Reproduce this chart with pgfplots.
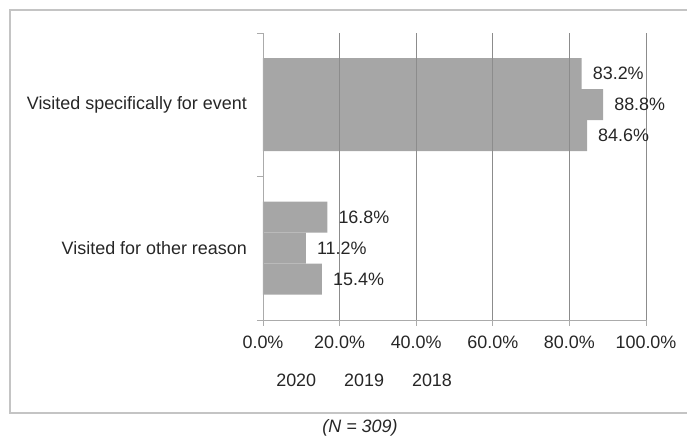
\documentclass[border=0pt]{standalone}
\usepackage{fontspec}
\setmainfont{Liberation Sans}
\usepackage{pgfplots}
\pgfplotsset{compat=1.18}
\definecolor{barg}{HTML}{A6A6A6}
\definecolor{gridg}{HTML}{8C8C8C}
\definecolor{axg}{HTML}{ABABAB}
\definecolor{txt}{HTML}{262626}
\definecolor{frameg}{HTML}{C4C4C4}
\newcommand{\fs}{\fontsize{18}{21}\selectfont}
\begin{document}
\fs
\begin{tikzpicture}[x=1bp,y=1bp]
\useasboundingbox (-263,-117) rectangle (424,320);
\draw[color=frameg, line width=1.2bp] (-253,-93) rectangle (426,310);
\begin{axis}[
  at={(0,0)}, anchor=south west,
  xbar, scale only axis, width=383bp, height=287bp,
  xmin=0, xmax=100, ymin=-0.5, ymax=1.5,
  /pgf/number format/assume math mode=true,
  axis x line*=bottom, axis y line*=left,
  axis line style={draw=axg, line width=0.9bp},
  xtick={0,20,...,100},
  xticklabel={\pgfmathprintnumber[fixed,fixed zerofill,precision=1]{\tick}\%},
  xticklabel style={yshift=-4bp},
  xmajorgrids, grid style={draw=gridg, line width=0.8bp},
  tick align=outside, major tick length=6bp,
  tick style={draw=axg, line width=0.9bp},
  ytick={-0.5,0.5,1.5}, yticklabels={,,},
  extra y ticks={0,1},
  extra y tick labels={Visited for other reason,Visited specifically for event},
  extra y tick style={tick style={draw=none}, ymajorgrids=false, yticklabel style={xshift=-4bp}},
  ticklabel style={color=txt, font=\fs},
  bar width=31bp,
  nodes near coords={\pgfmathprintnumber[fixed,fixed zerofill,precision=1]{\pgfplotspointmeta}\%},
  every node near coord/.append style={anchor=west, color=txt, font=\fs, xshift=5bp},
  axis on top,
  legend image code/.code={},
  legend columns=3,
  legend style={draw=none, fill=none, at={(0.264,-0.215)}, anchor=center,
    font=\fs, text=txt,
    /tikz/every even column/.append style={column sep=24bp}},
]
\addplot[fill=barg, draw=none, bar shift=31bp] coordinates {(16.8,0) (83.2,1)};
\addlegendentry{2020}
\addplot[fill=barg, draw=none, bar shift=0bp] coordinates {(11.2,0) (88.8,1)};
\addlegendentry{2019}
\addplot[fill=barg, draw=none, bar shift=-31bp] coordinates {(15.4,0) (84.6,1)};
\addlegendentry{2018}
\end{axis}
\node[color=txt, font=\fs\itshape] at (97,-108) {(N = 309)};
\end{tikzpicture}
\end{document}
